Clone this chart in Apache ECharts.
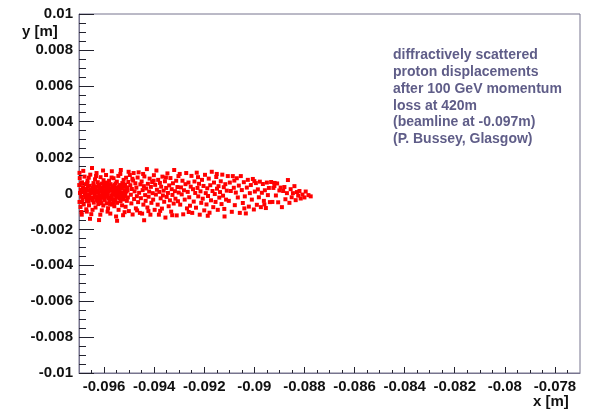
<!DOCTYPE html>
<html>
<head>
<meta charset="utf-8">
<script src="https://cdn.jsdelivr.net/npm/echarts@6/dist/echarts.min.js"></script>
<style>html,body{margin:0;padding:0;background:#fff;}#chart{width:591px;height:410px;}</style>
</head>
<body>
<div id="chart"></div>
<script>
// x range and tick labels (metres)
const xRange = [-0.097, -0.077];
const yRange = [-0.01, 0.01];
const xTickLabels = [-0.096, -0.094, -0.092, -0.090, -0.088, -0.086, -0.084, -0.082, -0.080, -0.078];
const xMinorTicks = [-0.0965,-0.0955,-0.095,-0.0945,-0.0935,-0.093,-0.0925,-0.0915,-0.091,-0.0905,-0.0895,-0.089,-0.0885,-0.0875,-0.087,-0.0865,-0.0855,-0.085,-0.0845,-0.0835,-0.083,-0.0825,-0.0815,-0.081,-0.0805,-0.0795,-0.079,-0.0785,-0.0775];
const yMinorTicks = [-0.0095,-0.009,-0.0085,-0.0075,-0.007,-0.0065,-0.0055,-0.005,-0.0045,-0.0035,-0.003,-0.0025,-0.0015,-0.001,-0.0005,0.0005,0.001,0.0015,0.0025,0.003,0.0035,0.0045,0.005,0.0055,0.0065,0.007,0.0075,0.0085,0.009,0.0095];
const noteLines = [
  'diffractively scattered',
  'proton displacements',
  'after 100 GeV momentum',
  'loss at 420m',
  '(beamline at -0.097m)',
  '(P. Bussey, Glasgow)'
];
// proton hit positions [x, y] in metres
const protonHits = [
[-0.09698,0.00115],[-0.09697,0.00086],[-0.09699,0.00047],[-0.09696,0.00003],[-0.09698,-0.00047],[-0.09694,-0.00075],[-0.09690,-0.00103],[-0.09693,0.00021],[-0.09691,-0.00018],[-0.09688,0.00062],[-0.09686,-0.00032],[-0.09684,0.00035],[-0.09681,-0.00061],[-0.09680,0.00008],[-0.09678,0.00094],[-0.09676,-0.00012],[-0.09674,0.00052],[-0.09671,-0.00088],[-0.09670,0.00025],[-0.09668,-0.00041],[-0.09666,0.00071],[-0.09664,-0.00005],[-0.09662,0.00016],[-0.09660,-0.00066],[-0.09658,0.00043],[-0.09657,-0.00027],[-0.09655,0.00105],[-0.09653,0.00002],[-0.09651,-0.00115],
[-0.09648,0.00142],[-0.09645,0.00031],[-0.09644,-0.00022],[-0.09642,0.00058],[-0.09641,-0.00051],[-0.09639,0.00012],[-0.09637,-0.00009],[-0.09636,0.00079],[-0.09634,-0.00078],[-0.09633,0.00039],[-0.09631,-0.00035],[-0.09630,0.00114],[-0.09628,0.00019],[-0.09627,-0.00016],[-0.09625,0.00063],[-0.09623,-0.00059],[-0.09622,0.00004],[-0.09620,-0.00148],[-0.09619,0.00048],[-0.09617,-0.00028],[-0.09616,0.00026],[-0.09614,0.00091],[-0.09613,-0.00043],[-0.09611,0.00011],[-0.09609,-0.00094],[-0.09608,0.00055],[-0.09606,-0.00007],[-0.09605,0.00033],[-0.09603,-0.00067],[-0.09602,0.00074],[-0.09601,-0.00021],
[-0.09598,0.00014],[-0.09597,-0.00036],[-0.09595,0.00046],[-0.09594,-0.00012],[-0.09592,0.00103],[-0.09591,0.00022],[-0.09590,-0.00055],[-0.09588,0.00061],[-0.09587,-0.00003],[-0.09585,0.00036],[-0.09584,-0.00082],[-0.09582,0.00009],[-0.09581,-0.00025],[-0.09580,0.00071],[-0.09578,-0.00046],[-0.09577,0.00027],[-0.09575,-0.00112],[-0.09574,0.00052],[-0.09572,-0.00014],[-0.09571,0.00017],[-0.09569,0.00124],[-0.09568,-0.00062],[-0.09566,0.00041],[-0.09565,-0.00031],[-0.09563,0.00006],[-0.09562,0.00085],[-0.09560,-0.00008],[-0.09559,-0.00071],[-0.09557,0.00032],[-0.09556,-0.00039],[-0.09554,0.00056],[-0.09553,0.00012],[-0.09551,-0.00019],
[-0.09549,0.00066],[-0.09548,-0.00052],[-0.09546,0.00024],[-0.09545,-0.00005],[-0.09543,0.00098],[-0.09542,-0.00091],[-0.09540,0.00038],[-0.09539,-0.00027],[-0.09537,0.00009],[-0.09536,0.00047],[-0.09534,-0.00043],[-0.09533,0.00131],[-0.09531,-0.00011],[-0.09530,0.00029],[-0.09528,-0.00066],[-0.09527,0.00058],[-0.09525,0.00003],[-0.09524,-0.00121],[-0.09522,0.00076],[-0.09521,-0.00033],[-0.09519,0.00019],[-0.09517,-0.00014],[-0.09516,0.00049],[-0.09514,-0.00074],[-0.09512,0.00088],[-0.09511,0.00011],[-0.09509,-0.00041],[-0.09507,0.00034],[-0.09505,-0.00022],[-0.09503,0.00064],[-0.09501,-0.00098],
[-0.09680,0.00018],[-0.09672,-0.00021],[-0.09665,0.00037],[-0.09659,-0.00014],[-0.09652,0.00022],[-0.09647,-0.00038],[-0.09640,0.00005],[-0.09635,0.00026],[-0.09629,-0.00031],[-0.09621,0.00042],[-0.09618,-0.00011],[-0.09612,0.00028],[-0.09607,-0.00024],[-0.09600,0.00037],[-0.09596,-0.00018],[-0.09589,0.00008],[-0.09583,0.00044],[-0.09579,-0.00029],[-0.09573,0.00019],[-0.09567,-0.00004],[-0.09561,0.00023],[-0.09555,-0.00036],[-0.09550,0.00015],[-0.09544,0.00031],[-0.09538,-0.00017],[-0.09532,0.00004],[-0.09526,-0.00029],[-0.09520,0.00039],[-0.09675,0.00003],[-0.09662,-0.00045],[-0.09643,0.00044],[-0.09626,0.00008],[-0.09610,-0.00054],[-0.09593,0.00003],[-0.09576,-0.00058],[-0.09558,0.00047],[-0.09541,0.00013],[-0.09529,0.00042],[-0.09515,-0.00002],[-0.09506,0.00017],
[-0.09497,0.00103],[-0.09495,0.00046],[-0.09493,-0.00007],[-0.09491,-0.00055],[-0.09489,0.00025],[-0.09486,-0.00117],[-0.09484,0.00072],[-0.09482,0.00114],[-0.09480,-0.00031],[-0.09478,0.00012],[-0.09475,0.00057],[-0.09473,-0.00083],[-0.09471,0.00033],[-0.09469,-0.00015],[-0.09466,0.00089],[-0.09464,-0.00048],[-0.09462,0.00118],[-0.09460,0.00004],[-0.09457,-0.00108],[-0.09455,0.00051],[-0.09453,-0.00026],[-0.09450,0.00067],[-0.09448,-0.00112],[-0.09446,0.00019],[-0.09443,-0.00062],[-0.09441,0.00041],[-0.09439,0.00095],[-0.09436,-0.00009],[-0.09434,-0.00041],[-0.09432,0.00028],[-0.09429,0.00136],[-0.09427,-0.00078],[-0.09425,0.00054],[-0.09422,-0.00018],[-0.09420,0.00011],[-0.09418,0.00083],[-0.09415,-0.00118],[-0.09413,0.00037],[-0.09411,-0.00052],[-0.09408,0.00064],[-0.09406,0.00002],[-0.09404,-0.00034],[-0.09401,0.00102],
[-0.09398,-0.00091],[-0.09396,0.00048],[-0.09393,-0.00006],[-0.09391,0.00128],[-0.09389,0.00021],[-0.09386,-0.00062],[-0.09384,0.00076],[-0.09381,-0.00118],[-0.09379,0.00009],[-0.09377,0.00059],[-0.09374,-0.00027],[-0.09372,0.00038],[-0.09369,-0.00084],[-0.09367,0.00094],[-0.09365,-0.00011],[-0.09362,0.00016],[-0.09360,-0.00046],[-0.09357,0.00068],[-0.09355,-0.00134],[-0.09352,0.00031],[-0.09350,-0.00019],[-0.09347,0.00112],[-0.09345,0.00003],[-0.09342,-0.00071],[-0.09340,0.00045],[-0.09337,-0.00038],[-0.09335,0.00086],[-0.09332,-0.00101],[-0.09330,0.00024],[-0.09327,-0.00008],[-0.09325,0.00057],[-0.09322,-0.00056],[-0.09320,0.00131],[-0.09317,0.00013],[-0.09315,-0.00029],[-0.09312,0.00071],[-0.09310,-0.00122],[-0.09307,0.00036],[-0.09305,-0.00043],[-0.09302,0.00005],
[-0.09298,0.00109],[-0.09296,-0.00062],[-0.09293,0.00034],[-0.09290,-0.00005],[-0.09287,0.00071],[-0.09284,-0.00116],[-0.09281,0.00018],[-0.09278,-0.00034],[-0.09275,0.00052],[-0.09272,0.00114],[-0.09269,-0.00083],[-0.09266,0.00009],[-0.09263,0.00061],[-0.09260,-0.00021],[-0.09257,-0.00068],[-0.09254,0.00038],[-0.09251,0.00098],[-0.09248,-0.00108],[-0.09245,0.00024],[-0.09242,-0.00045],[-0.09239,0.00067],[-0.09236,0.00003],[-0.09233,-0.00079],[-0.09230,0.00116],[-0.09227,0.00031],[-0.09224,-0.00016],[-0.09221,0.00054],[-0.09218,-0.00118],[-0.09215,0.00012],[-0.09212,-0.00052],[-0.09209,0.00076],[-0.09206,-0.00029],[-0.09203,0.00042],[-0.09200,-0.00094],[-0.09197,0.00104],[-0.09194,0.00002],[-0.09191,-0.00061],[-0.09188,0.00029],[-0.09185,-0.00014],[-0.09182,0.00083],[-0.09179,-0.00107],[-0.09176,0.00046],[-0.09173,-0.00038],[-0.09170,0.00121],[-0.09167,0.00014],[-0.09164,-0.00076],[-0.09161,0.00061],[-0.09158,-0.00003],[-0.09155,-0.00047],[-0.09152,0.00092],[-0.09149,0.00027],[-0.09146,-0.00091],[-0.09143,0.00041],[-0.09140,-0.00023],[-0.09137,0.00008],[-0.09134,0.00068],[-0.09131,-0.00059],[-0.09128,0.00105],[-0.09125,-0.00012],[-0.09122,0.00035],[-0.09119,-0.00128],[-0.09116,0.00052],[-0.09113,-0.00034],[-0.09110,0.00016],
[-0.09106,0.00097],[-0.09102,-0.00041],[-0.09098,0.00061],[-0.09094,0.00014],[-0.09090,-0.00102],[-0.09086,0.00097],[-0.09082,0.00032],[-0.09078,-0.00065],[-0.09074,0.00005],[-0.09070,0.00085],[-0.09066,-0.00022],[-0.09062,0.00044],[-0.09058,-0.00108],[-0.09054,0.00097],[-0.09050,0.00019],[-0.09046,-0.00053],[-0.09042,0.00063],[-0.09038,-0.00016],[-0.09034,-0.00111],[-0.09030,0.00033],[-0.09026,0.00076],[-0.09022,-0.00073],[-0.09018,0.00002],[-0.09014,0.00047],[-0.09010,-0.00034],[-0.09006,0.00081],[-0.09002,-0.00089],[-0.08998,0.00011],[-0.08994,0.00058],[-0.08990,-0.00063],[-0.08986,0.00023],[-0.08982,-0.00021],[-0.08978,0.00066],[-0.08974,-0.00076],[-0.08970,0.00004],[-0.08966,0.00053],[-0.08962,-0.00041],[-0.08958,0.00018],[-0.08954,-0.00081],[-0.08950,0.00061],[-0.08946,-0.00009],[-0.08942,0.00031],[-0.08938,-0.00048],
[-0.08933,0.00064],[-0.08928,-0.00047],[-0.08924,0.00031],[-0.08919,0.00059],[-0.08914,-0.00011],[-0.08909,0.00056],[-0.08905,-0.00049],[-0.08900,0.00017],[-0.08895,0.00033],[-0.08890,-0.00076],[-0.08885,0.00014],[-0.08880,0.00036],[-0.08876,-0.00032],[-0.08870,0.00002],[-0.08866,0.00075],[-0.08860,-0.00052],[-0.08855,0.00024],[-0.08851,-0.00021],[-0.08846,0.00002],[-0.08840,0.00041],[-0.08835,-0.00037],[-0.08830,0.00008],[-0.08825,-0.00012],[-0.08820,0.00014],[-0.08815,-0.00028],[-0.08808,-0.00006],[-0.08800,-0.00022],[-0.08795,0.00011],[-0.08784,-0.00009],[-0.08775,-0.00016],
[-0.09692,0.00055],[-0.09687,-0.00049],[-0.09683,0.00126],[-0.09669,-0.00101],[-0.09661,0.00088],[-0.09646,-0.00091],[-0.09632,0.00097],[-0.09615,-0.00118],[-0.09604,0.00128],[-0.09586,-0.00101],[-0.09570,0.00089],[-0.09552,-0.00128],[-0.09535,0.00109],[-0.09518,-0.00104],[-0.09502,0.00121],[-0.09487,0.00082],[-0.09468,-0.00094],[-0.09444,0.00109],[-0.09423,-0.00098],[-0.09402,0.00071],[-0.09376,-0.00097],[-0.09353,0.00089],[-0.09328,-0.00121],[-0.09303,0.00097],[-0.09262,-0.00103],[-0.09225,0.00091],[-0.09186,-0.00124],[-0.09150,0.00109],[-0.09120,-0.00086],[-0.09080,0.00072],[-0.09040,-0.00083],[-0.09000,0.00069],[-0.08960,-0.00061],[-0.08920,0.00042],[-0.09667,0.00058],[-0.09649,0.00009],[-0.09624,-0.00041],[-0.09599,0.00057],[-0.09581,0.00034],[-0.09563,-0.00052],[-0.09547,-0.00012],[-0.09523,0.00053],[-0.09689,-0.00118],[-0.09656,-0.00141],[-0.09548,-0.00152],[-0.09440,-0.00149]
];

const FONT = '"Liberation Sans", Arial, sans-serif';
const fmt = v => String(parseFloat(Number(v).toFixed(4)));
const frameColor = '#77748e';
const tickColor = '#22222e';
const labelStyle = { color: '#111', fontFamily: FONT, fontWeight: 'bold', fontSize: 15 };

const chart = echarts.init(document.getElementById('chart'), null, { renderer: 'canvas' });
chart.setOption({
  animation: false,
  backgroundColor: '#fff',
  grid: { left: 79, right: 11, top: 14, bottom: 37, show: true, borderColor: frameColor, borderWidth: 1, backgroundColor: 'transparent' },
  xAxis: [
    {
      type: 'value', min: xRange[0], max: xRange[1], position: 'bottom',
      axisLine: { show: true, onZero: false, lineStyle: { color: frameColor, width: 1 } },
      axisTick: { show: true, inside: true, length: 6, customValues: xTickLabels, lineStyle: { color: tickColor } },
      axisLabel: { show: true, margin: 6, customValues: xTickLabels, formatter: fmt, ...labelStyle },
      splitLine: { show: false }
    },
    {
      type: 'value', min: xRange[0], max: xRange[1], position: 'bottom',
      axisLine: { show: false, onZero: false },
      axisTick: { show: true, inside: true, length: 3, customValues: xMinorTicks, lineStyle: { color: tickColor } },
      axisLabel: { show: false },
      splitLine: { show: false }
    }
  ],
  yAxis: [
    {
      type: 'value', min: yRange[0], max: yRange[1], interval: 0.002, position: 'left',
      axisLine: { show: true, onZero: false, lineStyle: { color: frameColor, width: 1 } },
      axisTick: { show: true, inside: true, length: 15, lineStyle: { color: tickColor } },
      axisLabel: { show: true, margin: 6, formatter: fmt, ...labelStyle },
      splitLine: { show: false }
    },
    {
      type: 'value', min: yRange[0], max: yRange[1], position: 'left',
      axisLine: { show: false, onZero: false },
      axisTick: { show: true, inside: true, length: 7, customValues: yMinorTicks, lineStyle: { color: tickColor } },
      axisLabel: { show: false },
      splitLine: { show: false }
    }
  ],
  series: [{
    type: 'scatter',
    xAxisIndex: 0, yAxisIndex: 0,
    data: protonHits,
    symbol: 'rect',
    symbolSize: 4,
    itemStyle: { color: '#ff0000', opacity: 1 },
    silent: true
  }],
  graphic: [
    { type: 'text', left: 22, top: 24, style: { text: 'y [m]', fill: '#111', font: 'bold 15px ' + FONT } },
    { type: 'text', left: 533, top: 394, style: { text: 'x [m]', fill: '#111', font: 'bold 15px ' + FONT } },
    { type: 'text', left: 393, top: 47, style: { text: noteLines.join('\n'), fill: '#5f5d88', font: 'bold 14px ' + FONT, lineHeight: 16.8 } }
  ]
});
</script>
</body>
</html>
